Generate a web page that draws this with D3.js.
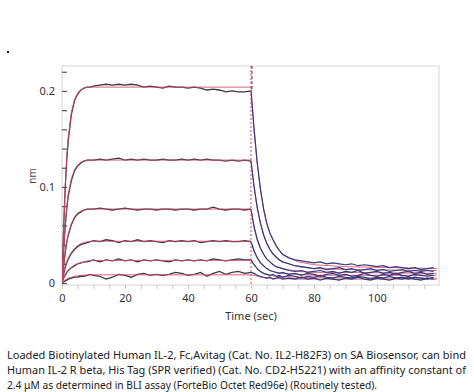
<!DOCTYPE html>
<html><head><meta charset="utf-8">
<script src="https://cdn.jsdelivr.net/npm/d3@7"></script>
<style>body{margin:0;background:#fff}svg{display:block}</style>
</head><body>
<svg id="c" width="474" height="392"></svg>
<script>
// ---- data ----
const assocTime = [0,0.5,1,1.5,2,3,4,5,6,7,8,9,10,12,14,16,18,20,22,24,26,28,30,32,34,36,38,40,42,44,46,48,50,52,54,56,58,60];
const assoc1 = [0,0.056,0.097,0.128,0.149,0.176,0.19,0.197,0.201,0.203,0.204,0.204,0.205,0.206,0.207,0.206,0.207,0.206,0.207,0.206,0.204,0.205,0.204,0.203,0.205,0.204,0.204,0.203,0.204,0.203,0.201,0.202,0.201,0.199,0.2,0.199,0.199,0.2];
const assoc2 = [0,0.033,0.058,0.077,0.091,0.107,0.117,0.122,0.125,0.127,0.128,0.128,0.128,0.129,0.128,0.129,0.13,0.128,0.129,0.128,0.129,0.128,0.128,0.129,0.128,0.128,0.129,0.128,0.129,0.128,0.129,0.128,0.128,0.127,0.128,0.127,0.128,0.127];
const assoc3 = [0,0.017,0.031,0.042,0.05,0.061,0.068,0.072,0.074,0.076,0.077,0.077,0.077,0.078,0.077,0.076,0.077,0.078,0.077,0.076,0.077,0.077,0.076,0.077,0.077,0.076,0.077,0.077,0.076,0.077,0.077,0.079,0.077,0.076,0.077,0.077,0.076,0.077];
const assoc4 = [0,0.009,0.016,0.021,0.025,0.031,0.035,0.038,0.04,0.041,0.042,0.043,0.044,0.043,0.045,0.044,0.042,0.044,0.043,0.045,0.043,0.044,0.043,0.042,0.044,0.043,0.044,0.043,0.044,0.042,0.043,0.044,0.043,0.044,0.043,0.043,0.044,0.043];
const assoc5 = [0,0.005,0.008,0.011,0.013,0.016,0.018,0.02,0.021,0.022,0.022,0.023,0.024,0.022,0.024,0.023,0.025,0.023,0.024,0.022,0.024,0.023,0.024,0.023,0.022,0.024,0.023,0.024,0.023,0.024,0.023,0.025,0.024,0.023,0.024,0.025,0.024,0.024];
const assoc6 = [0,0.001,0.002,0.003,0.004,0.005,0.006,0.006,0.007,0.007,0.008,0.009,0.008,0.007,0.004,0.006,0.009,0.008,0.006,0.009,0.01,0.008,0.009,0.008,0.009,0.011,0.01,0.008,0.009,0.011,0.007,0.01,0.012,0.009,0.011,0.012,0.01,0.011];

const fitAssocTime = [0,0.5,1,1.5,2,3,4,5,6,7,8,10,60];
const fitA1 = [0,0.058,0.099,0.13,0.152,0.178,0.191,0.198,0.201,0.203,0.204,0.204,0.204];
const fitA2 = [0,0.034,0.06,0.079,0.093,0.109,0.118,0.123,0.126,0.127,0.128,0.128,0.128];
const fitA3 = [0,0.018,0.032,0.043,0.051,0.062,0.069,0.073,0.075,0.076,0.077,0.077,0.077];
const fitA4 = [0,0.01,0.017,0.022,0.026,0.032,0.036,0.039,0.041,0.042,0.043,0.0435,0.0435];
const fitA5 = [0,0.005,0.009,0.011,0.013,0.016,0.019,0.02,0.021,0.022,0.023,0.0235,0.0235];
const fitA6 = [0,0.0015,0.003,0.004,0.005,0.006,0.007,0.0075,0.008,0.008,0.0085,0.0085,0.0085];

const dissTime = [60,61,62,63,64,65,66,67,68,69,70,72,74,76,78,80,82,84,86,88,90,92,94,96,98,100,102,104,106,108,110,112,114,116,118];
const diss1 = [0.2,0.16,0.125,0.098,0.077,0.062,0.052,0.045,0.039,0.034,0.03,0.026,0.024,0.023,0.022,0.021,0.022,0.02,0.021,0.02,0.019,0.02,0.018,0.019,0.018,0.017,0.018,0.016,0.017,0.016,0.015,0.016,0.014,0.015,0.016];
const diss2 = [0.127,0.1,0.078,0.062,0.05,0.041,0.035,0.03,0.027,0.024,0.022,0.02,0.018,0.017,0.016,0.015,0.016,0.014,0.015,0.016,0.014,0.015,0.013,0.014,0.015,0.013,0.014,0.012,0.013,0.014,0.012,0.013,0.012,0.013,0.012];
const diss3 = [0.077,0.058,0.045,0.036,0.03,0.025,0.022,0.019,0.017,0.016,0.015,0.013,0.012,0.013,0.011,0.012,0.013,0.011,0.012,0.01,0.012,0.011,0.013,0.01,0.011,0.012,0.01,0.011,0.009,0.011,0.012,0.01,0.011,0.009,0.01];
const diss4 = [0.043,0.033,0.026,0.021,0.018,0.015,0.013,0.012,0.011,0.01,0.011,0.009,0.01,0.008,0.01,0.009,0.007,0.009,0.01,0.008,0.009,0.007,0.008,0.01,0.008,0.007,0.009,0.008,0.01,0.008,0.007,0.009,0.008,0.007,0.008];
const diss5 = [0.024,0.019,0.015,0.012,0.01,0.009,0.008,0.009,0.007,0.008,0.006,0.008,0.007,0.005,0.007,0.006,0.008,0.006,0.005,0.007,0.006,0.005,0.007,0.006,0.004,0.006,0.005,0.007,0.005,0.006,0.004,0.006,0.005,0.004,0.006];
const diss6 = [0.011,0.01,0.008,0.007,0.006,0.005,0.006,0.004,0.005,0.006,0.004,0.005,0.004,0.006,0.004,0.005,0.003,0.005,0.004,0.003,0.005,0.004,0.006,0.004,0.003,0.005,0.004,0.003,0.005,0.004,0.006,0.004,0.003,0.005,0.004];

const fitDissTime = [60,61,62,63,64,65,66,68,70,75,80,90,119];
const fitD1 = [0.204,0.158,0.124,0.098,0.078,0.063,0.052,0.038,0.03,0.022,0.019,0.017,0.015];
const fitD2 = [0.128,0.1,0.079,0.063,0.051,0.042,0.035,0.027,0.022,0.017,0.015,0.014,0.013];
const fitD3 = [0.077,0.059,0.046,0.037,0.03,0.025,0.022,0.017,0.015,0.012,0.011,0.011,0.01];
const fitD4 = [0.0435,0.034,0.027,0.022,0.018,0.015,0.013,0.011,0.01,0.009,0.008,0.008,0.008];
const fitD5 = [0.0235,0.019,0.015,0.012,0.01,0.009,0.008,0.007,0.0065,0.006,0.0055,0.0055,0.005];
const fitD6 = [0.0085,0.008,0.007,0.006,0.0055,0.005,0.005,0.0045,0.0045,0.004,0.004,0.004,0.004];

const yTicks = [0,0.02,0.04,0.06,0.08,0.1,0.12,0.14,0.16,0.18,0.2,0.22];
const yLabels = {0:"0",0.1:"0.1",0.2:"0.2"};
const xTicks = [0,5,10,15,20,25,30,35,40,45,50,55,60,65,70,75,80,85,90,95,100,105,110,115];
const xLabels = [0,20,40,60,80,100];
const yTitle = "nm";
const xTitle = "Time (sec)";
const caption = [
  "Loaded Biotinylated Human IL-2, Fc,Avitag (Cat. No. IL2-H82F3) on SA Biosensor, can bind",
  "Human IL-2 R beta, His Tag (SPR verified) (Cat. No. CD2-H5221) with an affinity constant of",
  "2.4 \u03bcM as determined in BLI assay (ForteBio Octet Red96e) (Routinely tested)."
];

// ---- drawing ----
const svg = d3.select("#c");
const L = 62, R = 439, T = 66, B = 285;
const x = d3.scaleLinear().domain([0, 119.7]).range([L, R]);
const y = d3.scaleLinear().domain([-0.0021, 0.226]).range([B, T]);
const font = "'Noto Sans', 'Open Sans', sans-serif";

svg.append("rect").attr("x", 7).attr("y", 51).attr("width", 2).attr("height", 2).attr("fill", "#111");

svg.append("rect").attr("x", L).attr("y", T).attr("width", R - L).attr("height", B - T)
  .attr("fill", "none").attr("stroke", "#d4d4d4").attr("stroke-width", 1);

svg.append("clipPath").attr("id", "pc").append("rect")
  .attr("x", L).attr("y", T - 2).attr("width", R - L + 1).attr("height", B - T + 4);

const ax = d3.axisBottom(x).tickValues(xTicks).tickSize(4).tickPadding(5)
  .tickFormat(d => xLabels.includes(d) ? d : "");
const gx = svg.append("g").attr("transform", `translate(0,${B})`).call(ax);
gx.select(".domain").remove();
gx.selectAll("line").attr("stroke", "#c8c8c8");
gx.selectAll("text").attr("fill", "#333").style("font-family", font).style("font-size", "11px");

const ay = d3.axisLeft(y).tickValues(yTicks).tickSizeInner(-5).tickSizeOuter(0).tickPadding(7)
  .tickFormat(d => yLabels[d] !== undefined ? yLabels[d] : "");
const gy = svg.append("g").attr("transform", `translate(${L},0)`).call(ay);
gy.select(".domain").remove();
gy.selectAll("line").attr("stroke", "#555").attr("stroke-width", 1.2);
gy.selectAll("text").attr("fill", "#333").style("font-family", font).style("font-size", "11px");

svg.append("text").attr("transform", `translate(36,176) rotate(-90)`).attr("text-anchor", "middle")
  .attr("fill", "#444").style("font-family", font).style("font-size", "10px").text(yTitle);
svg.append("text").attr("x", x(60)).attr("y", 320).attr("text-anchor", "middle")
  .attr("fill", "#333").style("font-family", font).style("font-size", "11px").text(xTitle);

const plot = svg.append("g").attr("clip-path", "url(#pc)");
const line = d3.line().x(d => x(d[0])).y(d => y(d[1]));
const zip = (t, v) => t.map((tt, i) => [tt, v[i]]);

const fitsA = [fitA1, fitA2, fitA3, fitA4, fitA5, fitA6];
const fitsD = [fitD1, fitD2, fitD3, fitD4, fitD5, fitD6];
const dataA = [assoc1, assoc2, assoc3, assoc4, assoc5, assoc6];
const dataD = [diss1, diss2, diss3, diss4, diss5, diss6];

fitsD.forEach(v => plot.append("path").attr("d", line(zip(fitDissTime, v)))
  .attr("fill", "none").attr("stroke", "#d24a66").attr("stroke-width", 1).attr("opacity", 0.8));
dataD.forEach(v => plot.append("path").attr("d", line(zip(dissTime, v)))
  .attr("fill", "none").attr("stroke", "#34397e").attr("stroke-width", 1.2));
dataA.forEach(v => plot.append("path").attr("d", line(zip(assocTime, v)))
  .attr("fill", "none").attr("stroke", "#3f3443").attr("stroke-width", 1.3));
fitsA.forEach(v => plot.append("path").attr("d", line(zip(fitAssocTime, v)))
  .attr("fill", "none").attr("stroke", "#d24a66").attr("stroke-width", 1).attr("opacity", 0.85));

// vertical marker at 60 s
plot.append("line").attr("x1", x(60)).attr("x2", x(60)).attr("y1", T).attr("y2", B)
  .attr("stroke", "#d24a66").attr("stroke-width", 1).attr("stroke-dasharray", "2,2");
plot.append("line").attr("x1", x(60) + 1).attr("x2", x(60) + 1).attr("y1", T).attr("y2", y(0.2))
  .attr("stroke", "#3f3443").attr("stroke-width", 1).attr("stroke-dasharray", "3,2");

const cap = svg.append("g").style("font-family", font).style("font-size", "10.5px").attr("fill", "#222");
const capW = [459, 459, 370];
caption.forEach((s, i) => cap.append("text").attr("x", 7).attr("y", 359 + i * 15.2)
  .attr("textLength", capW[i]).attr("lengthAdjust", "spacingAndGlyphs").text(s));
</script>
</body></html>
